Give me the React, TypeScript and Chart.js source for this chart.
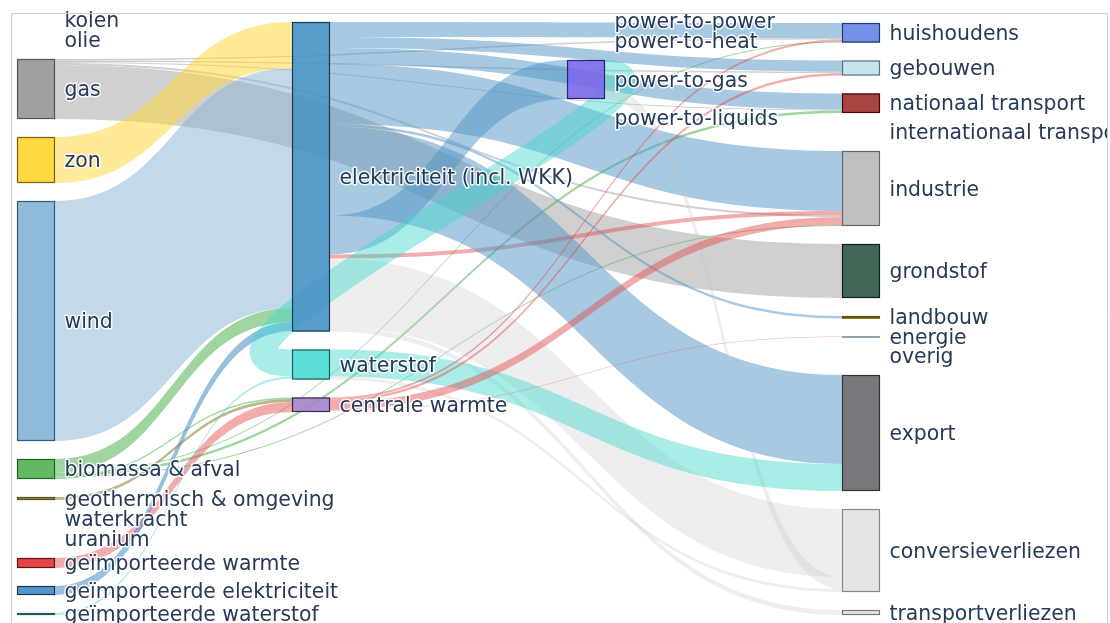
import React, { useEffect, useRef } from 'react';
import { Chart, registerables } from 'chart.js';

Chart.register(...registerables);

// ---------- data ----------
const NODE_LABELS = [
  'kolen', 'olie', 'gas', 'zon', 'wind', 'biomassa & afval', 'geothermisch & omgeving',
  'waterkracht', 'uranium', 'geïmporteerde warmte', 'geïmporteerde elektriciteit', 'geïmporteerde waterstof',
  'elektriciteit (incl. WKK)', 'waterstof', 'centrale warmte',
  'power-to-power', 'power-to-heat', 'power-to-gas', 'power-to-liquids',
  'huishoudens', 'gebouwen', 'nationaal transport', 'internationaal transport', 'industrie',
  'grondstof', 'landbouw', 'energie', 'overig', 'export', 'conversieverliezen', 'transportverliezen',
];
const NODE_COLUMNS = [
  0, 0, 0, 0, 0, 0, 0, 0, 0, 0, 0, 0,
  1, 1, 1,
  2, 2, 2, 2,
  3, 3, 3, 3, 3, 3, 3, 3, 3, 3, 3, 3,
];
const NODE_FILLS = [
  'rgba(0,0,0,0.9)', 'rgba(0,0,0,0.9)', 'rgba(150,150,150,0.9)', 'rgba(255,214,50,0.92)', 'rgba(135,180,214,0.92)',
  'rgba(80,178,80,0.9)', 'rgba(130,128,50,0.9)', 'rgba(0,0,0,0.9)', 'rgba(0,0,0,0.9)', 'rgba(222,50,50,0.9)',
  'rgba(66,138,198,0.9)', 'rgba(64,208,200,0.9)',
  'rgba(70,145,196,0.9)', 'rgba(72,218,210,0.9)', 'rgba(165,135,205,0.92)',
  'rgba(0,0,0,0.9)', 'rgba(0,0,0,0.9)', 'rgba(120,105,232,0.9)', 'rgba(0,0,0,0.9)',
  'rgba(104,136,230,0.92)', 'rgba(192,226,234,0.92)', 'rgba(160,52,52,0.92)', 'rgba(0,0,0,0.9)', 'rgba(188,188,188,0.95)',
  'rgba(58,94,78,0.95)', 'rgba(125,104,0,0.95)', 'rgba(40,70,90,0.95)', 'rgba(0,0,0,0.9)', 'rgba(112,114,118,0.95)',
  'rgba(228,228,228,0.95)', 'rgba(228,228,228,0.95)',
];
const NODE_LINES = [
  '#000', '#000', '#555555', '#7a6000', '#2f5a78',
  '#245f24', '#55551e', '#000', '#000', '#6e1010',
  '#1a3550', '#1d5e5a',
  '#1c3a55', '#1d5e5a', '#3a2a55',
  '#000', '#000', '#2a2478', '#000',
  '#27356e', '#5c7479', '#4a0808', '#000', '#666666',
  '#0d1f17', '#5e4e00', '#28465a', '#000', '#333333',
  '#888888', '#777777',
];

const LINK_SOURCES = [2, 2, 2, 2, 2, 3, 4, 5, 5, 5, 5, 5, 6, 9, 10, 11,
  12, 12, 12, 12, 12, 12, 12, 12, 12, 12, 17, 17, 13, 13, 14, 14, 14, 14];
const LINK_TARGETS = [19, 20, 21, 23, 24, 12, 12, 12, 19, 21, 14, 23, 14, 14, 12, 13,
  19, 20, 17, 21, 23, 23, 25, 28, 29, 30, 13, 29, 28, 29, 19, 20, 23, 26];
const LINK_VALUES = [1.5, 1.5, 1, 2, 54, 46, 240, 14, 1, 2.5, 1.5, 1, 3, 10, 9, 2,
  15, 11, 39, 16, 60, 4, 2.5, 89, 68, 5, 27, 12, 27, 3, 2, 2.5, 8, 0.5];
const GREY = 'rgba(150,150,150,0.45)';
const YELLOW = 'rgba(255,214,50,0.5)';
const WIND = 'rgba(135,180,214,0.5)';
const GREEN = 'rgba(80,178,80,0.55)';
const OLIVE = 'rgba(130,128,50,0.55)';
const PINK = 'rgba(228,70,70,0.45)';
const BLUE = 'rgba(66,138,198,0.55)';
const CYAN = 'rgba(64,212,205,0.45)';
const ELEK = 'rgba(80,148,198,0.5)';
const LOSS = 'rgba(200,200,200,0.3)';
const LINK_COLORS = [GREY, GREY, GREY, GREY, GREY, YELLOW, WIND, GREEN, GREEN, GREEN, GREEN, GREEN, OLIVE, PINK, BLUE, CYAN,
  ELEK, ELEK, ELEK, ELEK, ELEK, PINK, ELEK, ELEK, LOSS, LOSS, CYAN, LOSS, CYAN, LOSS, PINK, PINK, PINK, PINK];
// order in which the electricity node's outgoing links leave it (link indices)
const ELEK_OUT_ORDER = [16, 17, 19, 20, 22, 23, 18, 21, 24, 25];

// ---------- layout constants ----------
const COLUMN_TOPS = [19, 22, 20, 23];
const NODE_PAD = 18;
const MIN_H = 2;
const NODE_HALF = 0.069;
const PX_PER_COL = 275;
const FIRST_COL_PX = 36;
const W = 1110;
const H = 623;

const sankeyPlugin = {
  id: 'sankeyDraw',
  afterDraw(chart: any) {
    const ctx = chart.ctx as CanvasRenderingContext2D;
    const xs = chart.scales.x;
    const ys = chart.scales.y;
    const n = NODE_LABELS.length;
    const L = LINK_VALUES.length;
    const inSum = new Array(n).fill(0);
    const outSum = new Array(n).fill(0);
    for (let l = 0; l < L; l++) {
      outSum[LINK_SOURCES[l]] += LINK_VALUES[l];
      inSum[LINK_TARGETS[l]] += LINK_VALUES[l];
    }
    const y0: number[] = new Array(n).fill(0);
    const hv: number[] = new Array(n).fill(0);
    for (let c = 0; c < 4; c++) {
      let y = COLUMN_TOPS[c];
      for (let i = 0; i < n; i++) {
        if (NODE_COLUMNS[i] !== c) continue;
        const v = Math.max(inSum[i], outSum[i]);
        y0[i] = y;
        hv[i] = v;
        y += (v > 0 ? v : MIN_H) + NODE_PAD;
      }
    }
    const sOff: number[] = new Array(L).fill(0);
    const tOff: number[] = new Array(L).fill(0);
    for (let i = 0; i < n; i++) {
      let outs: number[] = [];
      const ins: number[] = [];
      for (let l = 0; l < L; l++) {
        if (LINK_SOURCES[l] === i) outs.push(l);
        if (LINK_TARGETS[l] === i) ins.push(l);
      }
      outs.sort((a, b) => (y0[LINK_TARGETS[a]] - y0[LINK_TARGETS[b]]) || (a - b));
      if (i === 12) outs = ELEK_OUT_ORDER.slice();
      ins.sort((a, b) => (y0[LINK_SOURCES[a]] - y0[LINK_SOURCES[b]]) || (a - b));
      let acc = y0[i];
      for (const l of outs) { sOff[l] = acc; acc += LINK_VALUES[l]; }
      acc = y0[i];
      for (const l of ins) { tOff[l] = acc; acc += LINK_VALUES[l]; }
    }
    const py = (v: number) => ys.getPixelForValue(v);
    const leftPx = (i: number) => xs.getPixelForValue(NODE_COLUMNS[i] - NODE_HALF);
    const rightPx = (i: number) => xs.getPixelForValue(NODE_COLUMNS[i] + NODE_HALF);

    ctx.save();
    // links
    for (let l = 0; l < L; l++) {
      const s = LINK_SOURCES[l];
      const t = LINK_TARGETS[l];
      const v = LINK_VALUES[l];
      const x0 = rightPx(s);
      const x1 = leftPx(t);
      ctx.fillStyle = LINK_COLORS[l];
      ctx.strokeStyle = LINK_COLORS[l];
      if (NODE_COLUMNS[t] <= NODE_COLUMNS[s]) {
        const sm = py(sOff[l] + v / 2);
        const tm = py(tOff[l] + v / 2);
        ctx.beginPath();
        ctx.moveTo(x0, sm);
        ctx.bezierCurveTo(x0 + 125, sm, x1 - 165, tm, x1, tm);
        ctx.lineWidth = py(v) - py(0);
        ctx.lineCap = 'butt';
        ctx.stroke();
        continue;
      }
      const sy0 = py(sOff[l]);
      const sy1 = py(sOff[l] + v);
      const ty0 = py(tOff[l]);
      const ty1 = py(tOff[l] + v);
      const xm = (x0 + x1) / 2;
      ctx.beginPath();
      ctx.moveTo(x0, sy0);
      ctx.bezierCurveTo(xm, sy0, xm, ty0, x1, ty0);
      ctx.lineTo(x1, ty1);
      ctx.bezierCurveTo(xm, ty1, xm, sy1, x0, sy1);
      ctx.closePath();
      ctx.fill();
    }
    // nodes
    for (let i = 0; i < n; i++) {
      if (hv[i] <= 0) continue;
      const xa = leftPx(i);
      const xb = rightPx(i);
      const ya = py(y0[i]);
      const yb = py(y0[i] + hv[i]);
      ctx.fillStyle = NODE_FILLS[i];
      if (yb - ya < 1.5) {
        ctx.fillStyle = NODE_LINES[i];
        ctx.fillRect(xa, ya, xb - xa, 1);
        continue;
      }
      ctx.fillRect(xa, ya, xb - xa, yb - ya);
      ctx.strokeStyle = NODE_LINES[i];
      ctx.lineWidth = 1.2;
      ctx.strokeRect(xa + 0.5, ya + 0.5, xb - xa - 1, yb - ya - 1);
    }
    // labels
    ctx.beginPath();
    ctx.rect(0, 0, 1107, H);
    ctx.clip();
    ctx.font = '20.4px "DejaVu Sans", Verdana, sans-serif';
    ctx.textAlign = 'left';
    ctx.textBaseline = 'alphabetic';
    ctx.lineJoin = 'round';
    for (let i = 0; i < n; i++) {
      const cy = py(y0[i] + (hv[i] > 0 ? hv[i] : MIN_H) / 2);
      const x = rightPx(i) + 9.5;
      const yb = cy + 7;
      ctx.strokeStyle = 'rgba(255,255,255,0.85)';
      ctx.lineWidth = 3;
      ctx.strokeText(NODE_LABELS[i], x, yb);
      ctx.fillStyle = '#263a58';
      ctx.fillText(NODE_LABELS[i], x, yb);
    }
    ctx.restore();
    // frame
    ctx.save();
    ctx.strokeStyle = '#cccccc';
    ctx.lineWidth = 1;
    ctx.beginPath();
    ctx.moveTo(11.5, H + 2);
    ctx.lineTo(11.5, 13.5);
    ctx.lineTo(1107.5, 13.5);
    ctx.lineTo(1107.5, H + 2);
    ctx.stroke();
    ctx.restore();
  },
};

export default function App() {
  const ref = useRef<HTMLCanvasElement | null>(null);
  useEffect(() => {
    if (!ref.current) return;
    const chart = new Chart(ref.current, {
      type: 'scatter',
      data: { datasets: [] },
      options: {
        animation: false,
        responsive: true,
        maintainAspectRatio: false,
        events: [],
        layout: { padding: 0 },
        plugins: { legend: { display: false }, tooltip: { enabled: false } },
        scales: {
          x: { type: 'linear', display: false, min: -FIRST_COL_PX / PX_PER_COL, max: (W - FIRST_COL_PX) / PX_PER_COL },
          y: { type: 'linear', display: false, min: 0, max: H, reverse: true },
        },
      },
      plugins: [sankeyPlugin],
    } as any);
    return () => chart.destroy();
  }, []);
  return (
    <div style={{ position: 'absolute', left: 0, top: 0, width: W, height: H, background: '#fff' }}>
      <canvas ref={ref} style={{ display: 'block' }} />
    </div>
  );
}
